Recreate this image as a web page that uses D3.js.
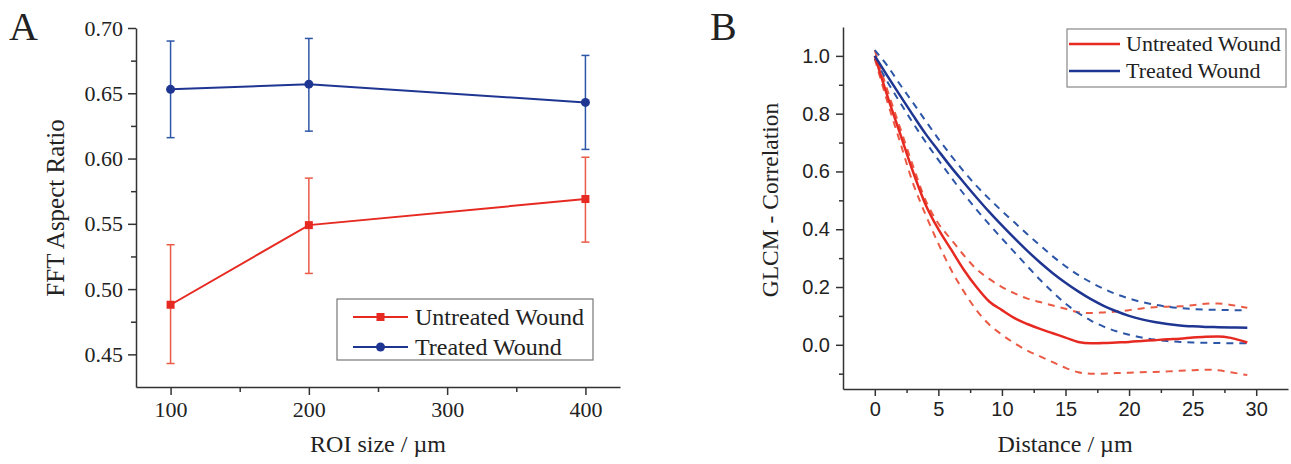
<!DOCTYPE html>
<html lang="en">
  <head>
    <meta charset="UTF-8" />
    <title>FFT aspect ratio and GLCM correlation</title>
    <script src="https://d3js.org/d3.v7.min.js"></script>
    <style>
      body { margin: 0; background: #fff; }
      .serif { font-family: "Liberation Serif", "Times New Roman", serif; fill: #222; }
      .axisA text { font-family: "Liberation Serif", serif; font-size: 22px; fill: #222; }
      .axisB text { font-family: "Liberation Sans", Arial, sans-serif; font-size: 20px; fill: #222; }
      .axis path, .axis line { stroke: #333; stroke-width: 1.5px; }
    </style>
  </head>
  <body>
    <div id="chart"></div>
    <script>
      // Panel A: FFT aspect ratio vs ROI size
      const roiSize = [100, 200, 400];
      const untreatedFFT = [0.488, 0.549, 0.569];
      const untreatedLow = [0.443, 0.512, 0.536];
      const untreatedHigh = [0.534, 0.585, 0.601];
      const treatedFFT = [0.653, 0.657, 0.643];
      const treatedLow = [0.616, 0.621, 0.607];
      const treatedHigh = [0.690, 0.692, 0.679];

      // Panel B: GLCM correlation vs distance
      const distance = [0, 1, 2, 3, 4, 5, 6, 7, 8, 9, 10, 11, 12, 13, 14, 15,
        16, 17, 18, 19, 20, 21, 22, 23, 24, 25, 26, 27, 28, 29.3];
      const untreatedMean = [1.0, 0.86, 0.73, 0.6, 0.485, 0.4, 0.33, 0.26, 0.2, 0.15,
        0.12, 0.092, 0.072, 0.055, 0.04, 0.025, 0.01, 0.005, 0.006, 0.008,
        0.01, 0.013, 0.016, 0.019, 0.021, 0.025, 0.028, 0.029, 0.024, 0.008];
      const untreatedUpper = [1.02, 0.88, 0.75, 0.62, 0.5, 0.42, 0.365, 0.31, 0.262, 0.228,
        0.2, 0.178, 0.16, 0.148, 0.136, 0.125, 0.113, 0.11, 0.112, 0.115,
        0.12, 0.126, 0.13, 0.132, 0.133, 0.137, 0.142, 0.143, 0.138, 0.128];
      const untreatedLower = [0.99, 0.84, 0.7, 0.56, 0.45, 0.35, 0.26, 0.185, 0.12, 0.07,
        0.035, 0.005, -0.02, -0.04, -0.06, -0.08, -0.095, -0.1, -0.1, -0.098,
        -0.097, -0.095, -0.094, -0.092, -0.09, -0.088, -0.086, -0.088, -0.095, -0.105];
      const treatedMean = [1.0, 0.93, 0.862, 0.795, 0.73, 0.672, 0.615, 0.562, 0.51, 0.46,
        0.413, 0.368, 0.325, 0.285, 0.248, 0.215, 0.185, 0.158, 0.135, 0.116,
        0.1, 0.088, 0.079, 0.072, 0.067, 0.064, 0.062, 0.061, 0.06, 0.059];
      const treatedUpper = [1.02, 0.965, 0.9, 0.838, 0.775, 0.713, 0.655, 0.6, 0.55, 0.505,
        0.463, 0.423, 0.383, 0.344, 0.306, 0.272, 0.242, 0.216, 0.194, 0.175,
        0.16, 0.148, 0.139, 0.132, 0.127, 0.124, 0.122, 0.121, 0.12, 0.12];
      const treatedLower = [0.99, 0.91, 0.838, 0.768, 0.702, 0.64, 0.58, 0.522, 0.468, 0.417,
        0.368, 0.32, 0.272, 0.225, 0.182, 0.143, 0.11, 0.084, 0.063, 0.047,
        0.035, 0.025, 0.018, 0.013, 0.01, 0.008, 0.007, 0.006, 0.005, 0.005];

      const seriesNames = ["Untreated Wound", "Treated Wound"];

      const red = "#e62a22";
      const redLight = "#ea5a45";
      const blue = "#1f3592";
      const blueLight = "#2d56a8";

      const svg = d3.select("#chart").append("svg")
        .attr("width", 1291).attr("height", 464);

      // ---------- Panel A ----------
      const xA = d3.scaleLinear().domain([75, 425]).range([136, 620]);
      const yA = d3.scaleLinear().domain([0.425, 0.70]).range([387, 28]);

      svg.append("g").attr("class", "axis axisA")
        .attr("transform", "translate(0,387)")
        .call(d3.axisBottom(xA).tickValues([100, 200, 300, 400]).tickSize(8).tickSizeOuter(0).tickPadding(6));
      svg.append("g").attr("class", "axis")
        .attr("transform", "translate(0,387)")
        .call(d3.axisBottom(xA).tickValues([150, 250, 350]).tickSize(5).tickSizeOuter(0).tickFormat(""))
        .select(".domain").remove();
      svg.append("g").attr("class", "axis axisA")
        .attr("transform", "translate(136,0)")
        .call(d3.axisLeft(yA).tickValues([0.45, 0.5, 0.55, 0.6, 0.65, 0.7]).tickSize(8)
          .tickSizeOuter(0).tickPadding(5).tickFormat(d3.format(".2f")));
      svg.append("g").attr("class", "axis")
        .attr("transform", "translate(136,0)")
        .call(d3.axisLeft(yA).tickValues([0.475, 0.525, 0.575, 0.625, 0.675]).tickSize(5)
          .tickSizeOuter(0).tickFormat(""))
        .select(".domain").remove();

      const seriesA = [
        { mean: untreatedFFT, low: untreatedLow, high: untreatedHigh, color: red, bar: redLight, marker: "square" },
        { mean: treatedFFT, low: treatedLow, high: treatedHigh, color: blue, bar: blueLight, marker: "circle" }
      ];

      const lineA = d3.line().x((d) => xA(d[0])).y((d) => yA(d[1]));

      seriesA.forEach((s) => {
        const g = svg.append("g");
        roiSize.forEach((r, i) => {
          const x = xA(r);
          g.append("line").attr("x1", x).attr("x2", x)
            .attr("y1", yA(s.low[i])).attr("y2", yA(s.high[i]))
            .attr("stroke", s.bar).attr("stroke-width", 1.5);
          [s.low[i], s.high[i]].forEach((v) => {
            g.append("line").attr("x1", x - 4).attr("x2", x + 4)
              .attr("y1", yA(v)).attr("y2", yA(v))
              .attr("stroke", s.bar).attr("stroke-width", 1.5);
          });
        });
        g.append("path")
          .attr("d", lineA(roiSize.map((r, i) => [r, s.mean[i]])))
          .attr("fill", "none").attr("stroke", s.color).attr("stroke-width", 2);
        roiSize.forEach((r, i) => {
          if (s.marker === "square") {
            g.append("rect").attr("x", xA(r) - 4).attr("y", yA(s.mean[i]) - 4)
              .attr("width", 8).attr("height", 8).attr("fill", s.color);
          } else {
            g.append("circle").attr("cx", xA(r)).attr("cy", yA(s.mean[i]))
              .attr("r", 4.5).attr("fill", s.color);
          }
        });
      });

      // legend A
      const legA = svg.append("g").attr("transform", "translate(337,299)");
      legA.append("rect").attr("width", 256).attr("height", 61)
        .attr("fill", "#fff").attr("stroke", "#777").attr("stroke-width", 1.2);
      seriesA.forEach((s, i) => {
        const y = 18 + i * 30;
        legA.append("line").attr("x1", 16).attr("x2", 71).attr("y1", y).attr("y2", y)
          .attr("stroke", s.color).attr("stroke-width", 2);
        if (s.marker === "square") {
          legA.append("rect").attr("x", 39.5).attr("y", y - 4).attr("width", 8).attr("height", 8).attr("fill", s.color);
        } else {
          legA.append("circle").attr("cx", 43.5).attr("cy", y).attr("r", 4.5).attr("fill", s.color);
        }
        legA.append("text").attr("class", "serif").attr("x", 78).attr("y", y + 8)
          .attr("font-size", 24).text(seriesNames[i]);
      });

      svg.append("text").attr("class", "serif").attr("x", 378).attr("y", 452)
        .attr("text-anchor", "middle").attr("font-size", 24).text("ROI size / µm");
      svg.append("text").attr("class", "serif")
        .attr("transform", "translate(64,208) rotate(-90)")
        .attr("text-anchor", "middle").attr("font-size", 25).text("FFT Aspect Ratio");
      svg.append("text").attr("class", "serif").attr("x", 9).attr("y", 40)
        .attr("font-size", 40).text("A");

      // ---------- Panel B ----------
      const xB = d3.scaleLinear().domain([-2.5, 32.5]).range([843, 1288]);
      const yB = d3.scaleLinear().domain([-0.153, 1.1]).range([389, 27]);

      svg.append("g").attr("class", "axis axisB")
        .attr("transform", "translate(0,389)")
        .call(d3.axisBottom(xB).tickValues([0, 5, 10, 15, 20, 25, 30]).tickSize(7).tickSizeOuter(0).tickPadding(6));
      svg.append("g").attr("class", "axis")
        .attr("transform", "translate(0,389)")
        .call(d3.axisBottom(xB).tickValues([2.5, 7.5, 12.5, 17.5, 22.5, 27.5]).tickSize(4).tickSizeOuter(0).tickFormat(""))
        .select(".domain").remove();
      svg.append("g").attr("class", "axis axisB")
        .attr("transform", "translate(843,0)")
        .call(d3.axisLeft(yB).tickValues([0, 0.2, 0.4, 0.6, 0.8, 1.0]).tickSize(7)
          .tickSizeOuter(0).tickPadding(6).tickFormat(d3.format(".1f")));
      svg.append("g").attr("class", "axis")
        .attr("transform", "translate(843,0)")
        .call(d3.axisLeft(yB).tickValues([-0.1, 0.1, 0.3, 0.5, 0.7, 0.9]).tickSize(4)
          .tickSizeOuter(0).tickFormat(""))
        .select(".domain").remove();

      const lineB = d3.line().curve(d3.curveMonotoneX)
        .x((d) => xB(d[0])).y((d) => yB(d[1]));
      const pts = (vals) => distance.map((d, i) => [d, vals[i]]);

      const curvesB = [
        { vals: untreatedUpper, color: redLight, dash: "7,6", w: 2 },
        { vals: untreatedLower, color: redLight, dash: "7,6", w: 2 },
        { vals: treatedUpper, color: blueLight, dash: "7,6", w: 2 },
        { vals: treatedLower, color: blueLight, dash: "7,6", w: 2 },
        { vals: untreatedMean, color: red, dash: null, w: 2.5 },
        { vals: treatedMean, color: blue, dash: null, w: 2.5 }
      ];
      curvesB.forEach((c) => {
        svg.append("path").attr("d", lineB(pts(c.vals)))
          .attr("fill", "none").attr("stroke", c.color).attr("stroke-width", c.w)
          .attr("stroke-dasharray", c.dash);
      });

      // legend B
      const legB = svg.append("g").attr("transform", "translate(1067,29)");
      legB.append("rect").attr("width", 219).attr("height", 58)
        .attr("fill", "#fff").attr("stroke", "#888").attr("stroke-width", 1.2);
      [red, blue].forEach((c, i) => {
        const y = 15 + i * 27;
        legB.append("line").attr("x1", 2).attr("x2", 53).attr("y1", y).attr("y2", y)
          .attr("stroke", c).attr("stroke-width", 2.5);
        legB.append("text").attr("class", "serif").attr("x", 59).attr("y", y + 7)
          .attr("font-size", 22).text(seriesNames[i]);
      });

      svg.append("text").attr("class", "serif").attr("x", 1065).attr("y", 452)
        .attr("text-anchor", "middle").attr("font-size", 24).text("Distance / µm");
      svg.append("text").attr("class", "serif")
        .attr("transform", "translate(778,200) rotate(-90)")
        .attr("text-anchor", "middle").attr("font-size", 23.5).text("GLCM - Correlation");
      svg.append("text").attr("class", "serif").attr("x", 710).attr("y", 40)
        .attr("font-size", 40).text("B");
    </script>
  </body>
</html>
